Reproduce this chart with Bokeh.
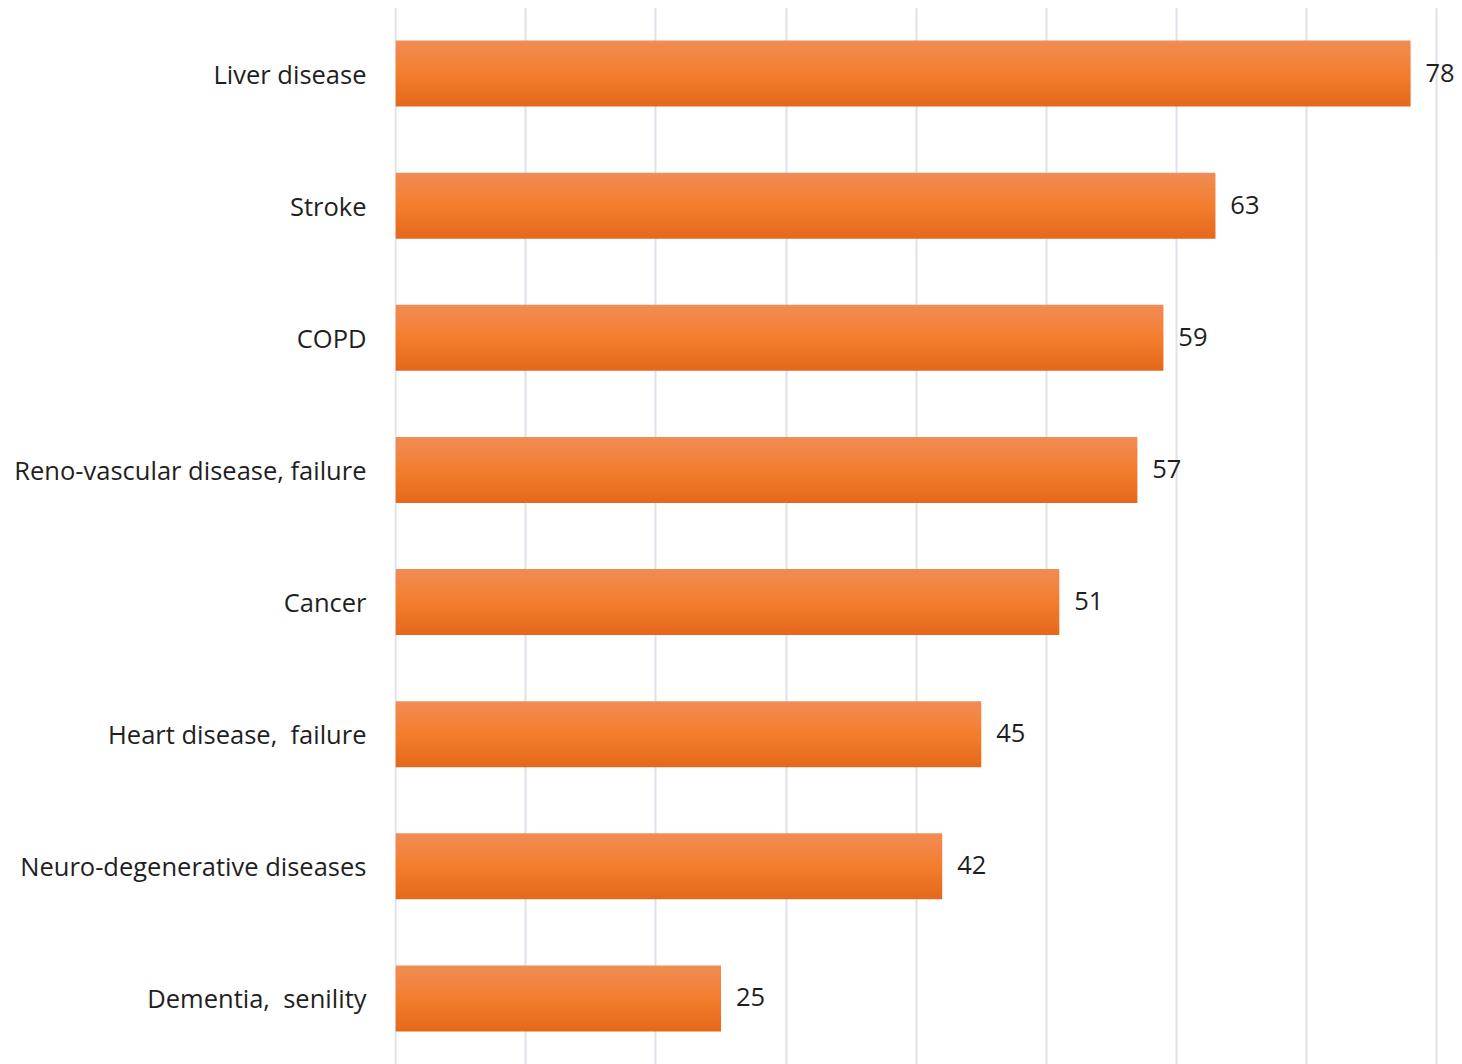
from bokeh.plotting import figure
from bokeh.models import Range1d, FactorRange, FixedTicker, ColumnDataSource
from bokeh.transform import dodge
from bokeh.core.properties import value
from bokeh.embed import file_html
from bokeh.resources import INLINE

categories = ["Liver disease", "Stroke", "COPD", "Reno-vascular disease, failure",
              "Cancer", "Heart disease,\u00a0 failure", "Neuro-degenerative diseases",
              "Dementia,\u00a0 senility"]
values = [78, 63, 59, 57, 51, 45, 42, 25]
grid_ticks = [0, 10, 20, 30, 40, 50, 60, 70, 80]

FONT = "Open Sans"
FS = "25.5px"
W, H = 1462, 1064

p = figure(width=W, height=H, output_backend="svg", toolbar_location=None,
           y_range=FactorRange(factors=list(reversed(categories)), range_padding=0),
           x_range=Range1d(-0.1, 82.0),
           min_border_left=394, min_border_right=0, min_border_top=7,
           min_border_bottom=0)
p.outline_line_color = None
p.background_fill_color = "white"
p.border_fill_color = "white"

src = ColumnDataSource(dict(cat=categories, val=values,
                            lab=[str(v) for v in values]))

# gradient bars: stacked thin overlapping slices, light top to dark bottom
def lerp(c1, c2, t):
    return "#%02x%02x%02x" % tuple(int(round(a + (b - a) * t)) for a, b in zip(c1, c2))

top = (0xF1, 0x8C, 0x55)
mid = (0xF4, 0x7D, 0x2E)
bot = (0xE4, 0x68, 0x1B)
N = 30
bar_h = 0.5
sh = bar_h / N
for i in range(N):
    t = (i + 0.5) / N
    if t < 0.5:
        col = lerp(top, mid, t / 0.5)
    else:
        col = lerp(mid, bot, (t - 0.5) / 0.5)
    y_top = bar_h / 2 - i * sh
    y_bot = max(-bar_h / 2, bar_h / 2 - (i + 1) * sh - 0.6 * sh)
    p.hbar(y=dodge("cat", (y_top + y_bot) / 2, range=p.y_range), right="val", left=0,
           height=y_top - y_bot, source=src, fill_color=col, line_color=None)

p.text(x="val", y="cat", text="lab", source=src, x_offset=15, y_offset=-1,
       text_baseline="middle", text_align="left",
       text_font=value(FONT), text_font_size=FS, text_color="#1f1f1f")

p.xaxis.visible = False
p.xgrid.ticker = FixedTicker(ticks=grid_ticks)
p.xgrid.grid_line_color = "#DDE1EA"
p.xgrid.grid_line_width = 2
p.ygrid.grid_line_color = None

ya = p.yaxis[0]
ya.axis_line_color = None
ya.major_tick_line_color = None
ya.minor_tick_line_color = None
ya.major_tick_out = 0
ya.major_tick_in = 0
ya.major_label_standoff = 28
ya.major_label_text_font = FONT
ya.major_label_text_font_size = FS
ya.major_label_text_color = "#1f1f1f"

open("out.html", "w").write(file_html(p, INLINE))
